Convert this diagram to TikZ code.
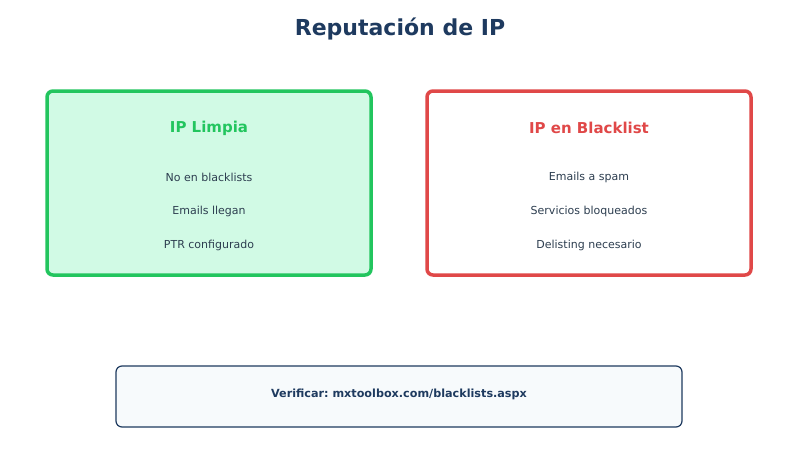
\documentclass[tikz,border=0pt]{standalone}
\usepackage{fontspec}
\setmainfont{DejaVu Sans}
\frenchspacing
\definecolor{navy}{HTML}{1E3A5F}
\definecolor{txt}{HTML}{2D3E50}
\definecolor{gstroke}{HTML}{22C55E}
\definecolor{gfill}{HTML}{D1FAE5}
\definecolor{rstroke}{HTML}{E04848}
\definecolor{bfill}{HTML}{F7FAFC}
\begin{document}
\begin{tikzpicture}[x=1pt,y=-1pt,
  card/.style={line width=3.5pt,rounded corners=6pt},
  head/.style={font=\fontsize{15}{18}\selectfont\bfseries,anchor=center},
  item/.style={font=\fontsize{11}{13}\selectfont,text=txt,anchor=center},
  note/.style={draw=navy,line width=1.2pt,fill=bfill,rounded corners=6pt}]
\useasboundingbox (0,0) rectangle (800,450);
\fill[white] (0,0) rectangle (800,450);
\node[font=\fontsize{22}{26}\selectfont\bfseries,text=navy] (title) at (400,29) {Reputación de IP};
% left card
\draw[card,draw=gstroke,fill=gfill] (47,91) rectangle (371,275);
\node[head,text=gstroke] (lh) at (209,128) {IP Limpia};
\node[item] (l1) at (209,177) {No en blacklists};
\node[item] (l2) at (209,211) {Emails llegan};
\node[item] (l3) at (209,245) {PTR configurado};
% right card
\draw[card,draw=rstroke,fill=white] (427,91) rectangle (751,275);
\node[head,text=rstroke] (rh) at (589,128) {IP en Blacklist};
\node[item] (r1) at (589,177) {Emails a spam};
\node[item] (r2) at (589,211) {Servicios bloqueados};
\node[item] (r3) at (589,245) {Delisting necesario};
% bottom
\draw[note] (116,366) rectangle (682,427);
\node[font=\fontsize{11.2}{14}\selectfont\bfseries,text=navy] (ver) at (399,394) {Verificar: mxtoolbox.com/blacklists.aspx};
\end{tikzpicture}
\end{document}
